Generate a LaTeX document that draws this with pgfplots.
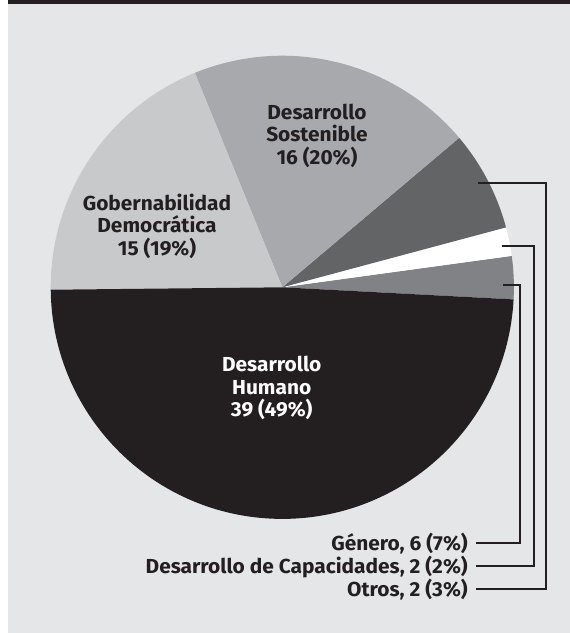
\documentclass[border=0pt]{standalone}
\usepackage{pgfplots}
\usepackage{pgfplotstable}
\pgfplotsset{compat=1.18}
\usepackage{fontspec}
\setmainfont{Fira Sans}[FakeStretch=1.03]
\definecolor{bg}{HTML}{E5E6E8}
\definecolor{ink}{HTML}{231F20}
\definecolor{cHum}{HTML}{231F20}
\definecolor{cOtros}{HTML}{808285}
\definecolor{cGen}{HTML}{636466}
\definecolor{cSost}{HTML}{A7A9AC}
\definecolor{cGob}{HTML}{C8C9CB}
\pgfplotstableread{
value color
3 cOtros
2 white
7 cGen
20 cSost
19 cGob
49 cHum
}\piedata
\newcommand{\lab}{\fontsize{15.2pt}{16pt}\selectfont\bfseries}
\begin{document}
\begin{tikzpicture}
\begin{axis}[hide axis, scale only axis, x=0.75pt, y=0.75pt,
  xmin=0, xmax=570, ymin=0, ymax=633, y dir=reverse, clip=false]
\fill[white] (axis cs:0,0) rectangle (axis cs:570,633);
\fill[bg] (axis cs:8,4) rectangle (axis cs:570,633);
\fill[ink] (axis cs:8,0) rectangle (axis cs:570,4);
\gdef\cum{-3}
\pgfplotsforeachungrouped \i in {0,...,5}{%
  \pgfplotstablegetelem{\i}{value}\of\piedata \let\v\pgfplotsretval
  \pgfplotstablegetelem{\i}{color}\of\piedata \let\c\pgfplotsretval
  \pgfmathsetmacro\a{\cum}%
  \pgfmathsetmacro\b{\cum+3.6*\v}%
  \pgfmathsetmacro\xs{282.3+231.6*cos(\a)}%
  \pgfmathsetmacro\ys{287.3-231.6*sin(\a)}%
  \edef\temp{\noexpand\fill[\c] (axis cs:282.3,287.3) -- (axis cs:\xs,\ys) arc[start angle=\a, end angle=\b, radius=173.7pt] -- cycle;}%
  \temp
  \xdef\cum{\b}%
}
% leader lines
\draw[ink, line width=1.1pt] (axis cs:478,183) -- (axis cs:546,183) -- (axis cs:546,589) -- (axis cs:476,589);
\draw[ink, line width=1.1pt] (axis cs:502,246) -- (axis cs:534,246) -- (axis cs:534,566) -- (axis cs:476,566);
\draw[ink, line width=1.1pt] (axis cs:503,285) -- (axis cs:520,285) -- (axis cs:520,543) -- (axis cs:476,543);
% outside labels
\node[anchor=base east, text=ink, inner sep=0pt, font=\lab] at (axis cs:468,550.5) {Género, 6 (7\%)};
\node[anchor=base east, text=ink, inner sep=0pt, font=\lab] at (axis cs:468,573) {Desarrollo de Capacidades, 2 (2\%)};
\node[anchor=base east, text=ink, inner sep=0pt, font=\lab] at (axis cs:468,596) {Otros, 2 (3\%)};
% inside labels
\node[anchor=base, text=ink, inner sep=0pt, font=\lab] at (axis cs:317,119.3) {Desarrollo};
\node[anchor=base, text=ink, inner sep=0pt, font=\lab] at (axis cs:317,141.7) {Sostenible};
\node[anchor=base, text=ink, inner sep=0pt, font=\lab] at (axis cs:317,164) {16 (20\%)};
\node[anchor=base, text=ink, inner sep=0pt, font=\lab] at (axis cs:157,210) {Gobernabilidad};
\node[anchor=base, text=ink, inner sep=0pt, font=\lab] at (axis cs:157,232.5) {Democrática};
\node[anchor=base, text=ink, inner sep=0pt, font=\lab] at (axis cs:157,255) {15 (19\%)};
\node[anchor=base, text=white, inner sep=0pt, font=\lab] at (axis cs:271.7,371.7) {Desarrollo};
\node[anchor=base, text=white, inner sep=0pt, font=\lab] at (axis cs:271.7,394) {Humano};
\node[anchor=base, text=white, inner sep=0pt, font=\lab] at (axis cs:271.7,416.3) {39 (49\%)};
\end{axis}
\end{tikzpicture}
\end{document}
